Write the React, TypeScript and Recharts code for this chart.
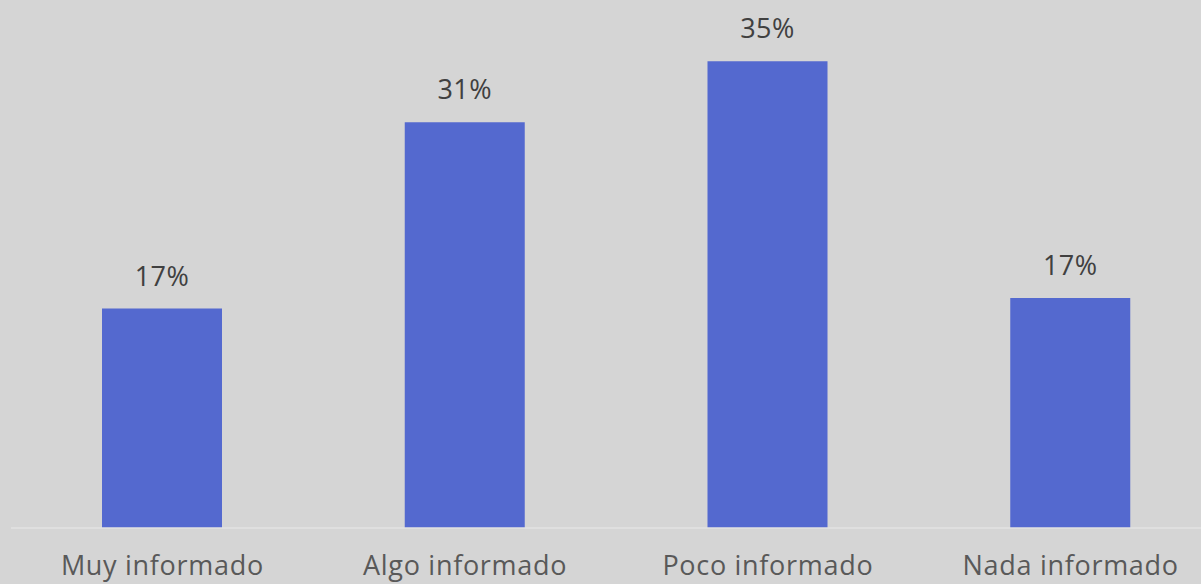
import { BarChart, Bar, XAxis, YAxis, LabelList } from "recharts";

const categories = ["Muy informado", "Algo informado", "Poco informado", "Nada informado"];
const shares = [16.5, 30.5, 35.1, 17.3];

const data = categories.map((name, i) => ({ name, value: shares[i] }));

const FONT = "'Open Sans', 'Noto Sans', sans-serif";

export default function App() {
  return (
    <div
      style={{
        position: "absolute",
        left: 0,
        top: 0,
        width: 1201,
        height: 584,
        overflow: "hidden",
        background: "#D5D5D5",
        fontFamily: FONT,
      }}
    >
      <BarChart
        width={1222}
        height={584}
        data={data}
        margin={{ top: -4, right: 0, left: 11, bottom: 0 }}
      >
        <XAxis
          dataKey="name"
          height={56}
          axisLine={{ stroke: "#E2E2E2", strokeWidth: 1.5 }}
          tickLine={false}
          tickMargin={22}
          tick={{ fill: "#595959", fontSize: 27, fontFamily: FONT, letterSpacing: 0.7 }}
          interval={0}
        />
        <YAxis hide domain={[0, 40]} />
        <Bar dataKey="value" fill="#5469CF" barSize={120} isAnimationActive={false}>
          <LabelList
            dataKey="value"
            position="top"
            offset={23}
            formatter={(v: number) => `${Math.round(v)}%`}
            style={{ fill: "#404040", fontSize: 27, fontFamily: FONT, letterSpacing: 0.5 }}
          />
        </Bar>
      </BarChart>
    </div>
  );
}
